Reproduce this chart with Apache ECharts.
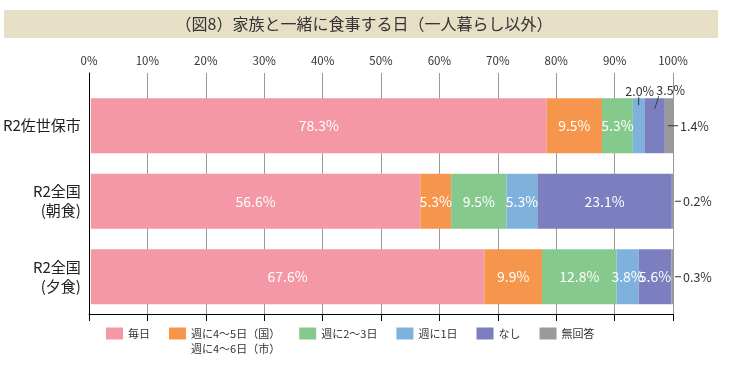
<!DOCTYPE html>
<html>
<head>
<meta charset="utf-8">
<script src="https://cdn.jsdelivr.net/npm/echarts@6/dist/echarts.min.js"></script>
<style>
html,body{margin:0;padding:0;background:#fff;}
#chart{width:739px;height:377px;}
</style>
</head>
<body>
<div id="chart"></div>
<script>
// ---- data ----
const categories = ['R2佐世保市', 'R2全国\n(朝食)', 'R2全国\n(夕食)'];
const seriesNames = ['毎日', '週に4〜5日（国）', '週に2〜3日', '週に1日', 'なし', '無回答'];
const everyDay   = [78.3, 56.6, 67.6];
const fourToFive = [9.5, 5.3, 9.9];
const twoToThree = [5.3, 9.5, 12.8];
const oncePerWeek = [2.0, 5.3, 3.8];
const noneAtAll  = [3.5, 23.1, 5.6];
const noAnswer   = [1.4, 0.2, 0.3];
const legendSecondLine = '週に4〜6日（市）';
const titleText = '（図8）家族と一緒に食事する日（一人暮らし以外）';

const values = [everyDay, fourToFive, twoToThree, oncePerWeek, noneAtAll, noAnswer];
const colors = ['#f398a4', '#f5964c', '#86c98c', '#7eb2dd', '#7b7fbf', '#9a9a9a'];
const FONT = '"Noto Sans CJK JP", "Noto Sans", sans-serif';

const pct = v => v.toFixed(1) + '%';

// label overrides for small segments (series index -> data index -> label)
const outsideLabels = {
  3: { 0: { position: 'top', distance: -7,
            formatter: p => '{t|' + pct(p.value) + '}\n{v|}' } },
  4: { 0: { position: 'top', distance: -7, offset: [15, 0],
            formatter: p => '{t|' + pct(p.value) + '}\n{s|/}' } },
  5: { 0: { position: 'right', distance: -5,
            formatter: p => '{l|}{t|' + pct(p.value) + '}' },
       1: { position: 'right', distance: 2,
            formatter: p => '{m|}{t|' + pct(p.value) + '}' },
       2: { position: 'right', distance: 2,
            formatter: p => '{m|}{t|' + pct(p.value) + '}' } }
};
const outsideRich = {
  t: { color: '#333', fontSize: 12.5, fontFamily: FONT, lineHeight: 13, padding: [0, 0, 0, 2] },
  v: { width: 1, height: 8, backgroundColor: '#333' },
  l: { width: 10, height: 1, backgroundColor: '#333' },
  m: { width: 6, height: 1, backgroundColor: '#333' },
  s: { color: '#333', fontSize: 13, fontFamily: FONT, lineHeight: 9, align: 'left' }
};

const series = seriesNames.map((name, si) => ({
  name: name,
  type: 'bar',
  stack: 'total',
  xAxisIndex: 0,
  yAxisIndex: 0,
  barWidth: 55,
  itemStyle: { color: colors[si] },
  label: {
    show: true,
    position: 'inside',
    color: '#fff',
    fontSize: 14,
    fontFamily: FONT,
    formatter: p => pct(p.value)
  },
  data: values[si].map((v, di) => {
    const o = outsideLabels[si] && outsideLabels[si][di];
    if (o) {
      return { value: v, label: Object.assign({ show: true, color: '#333', rich: outsideRich }, o) };
    }
    return v;
  })
}));

const chart = echarts.init(document.getElementById('chart'), null, { renderer: 'canvas' });
chart.setOption({
  animation: false,
  backgroundColor: '#fff',
  color: colors,
  graphic: [{
    type: 'rect', z: -10, silent: true,
    shape: { x: 4, y: 10, width: 714, height: 28 },
    style: { fill: '#e6dec5' }
  }],
  title: {
    text: titleText,
    left: 364,
    textAlign: 'center',
    top: 14,
    padding: 0,
    textStyle: { fontFamily: FONT, fontSize: 16, fontWeight: 'normal', color: '#333', lineHeight: 20 }
  },
  legend: {
    data: seriesNames,
    left: 106,
    top: 311,
    padding: 0,
    itemWidth: 17,
    itemHeight: 12,
    itemGap: 19,
    icon: 'rect',
    textStyle: { fontFamily: FONT, fontSize: 11, color: '#333', lineHeight: 15 },
    formatter: name => name === seriesNames[1] ? '\n' + name + '\n' + legendSecondLine : name
  },
  grid: [
    { left: 89, right: 66, top: 88, bottom: 62.5 },
    { left: 89, right: 66, top: 73, bottom: 63 }
  ],
  xAxis: [
    { gridIndex: 0, type: 'value', min: 0, max: 100, interval: 10, show: false },
    { gridIndex: 1, type: 'value', min: 0, max: 100, interval: 10, position: 'top',
      axisLine: { show: true, lineStyle: { color: '#000', width: 1 } },
      axisTick: { show: true, inside: true, length: 7, lineStyle: { color: '#000' } },
      splitLine: { show: true, lineStyle: { color: '#9a9a9a', width: 1 } },
      axisLabel: { formatter: '{value}%', fontFamily: FONT, fontSize: 11.5, color: '#333', margin: 7 } }
  ],
  yAxis: [
    { gridIndex: 0, type: 'category', data: categories, inverse: true,
      axisLine: { show: false }, axisTick: { show: false },
      axisLabel: { fontFamily: FONT, fontSize: 15, color: '#222', lineHeight: 19, margin: 10 } },
    { gridIndex: 1, type: 'value', min: 0, max: 1,
      axisLine: { show: true, lineStyle: { color: '#000', width: 1 } },
      axisTick: { show: false }, axisLabel: { show: false }, splitLine: { show: false } }
  ],
  series: series
});
</script>
</body>
</html>
